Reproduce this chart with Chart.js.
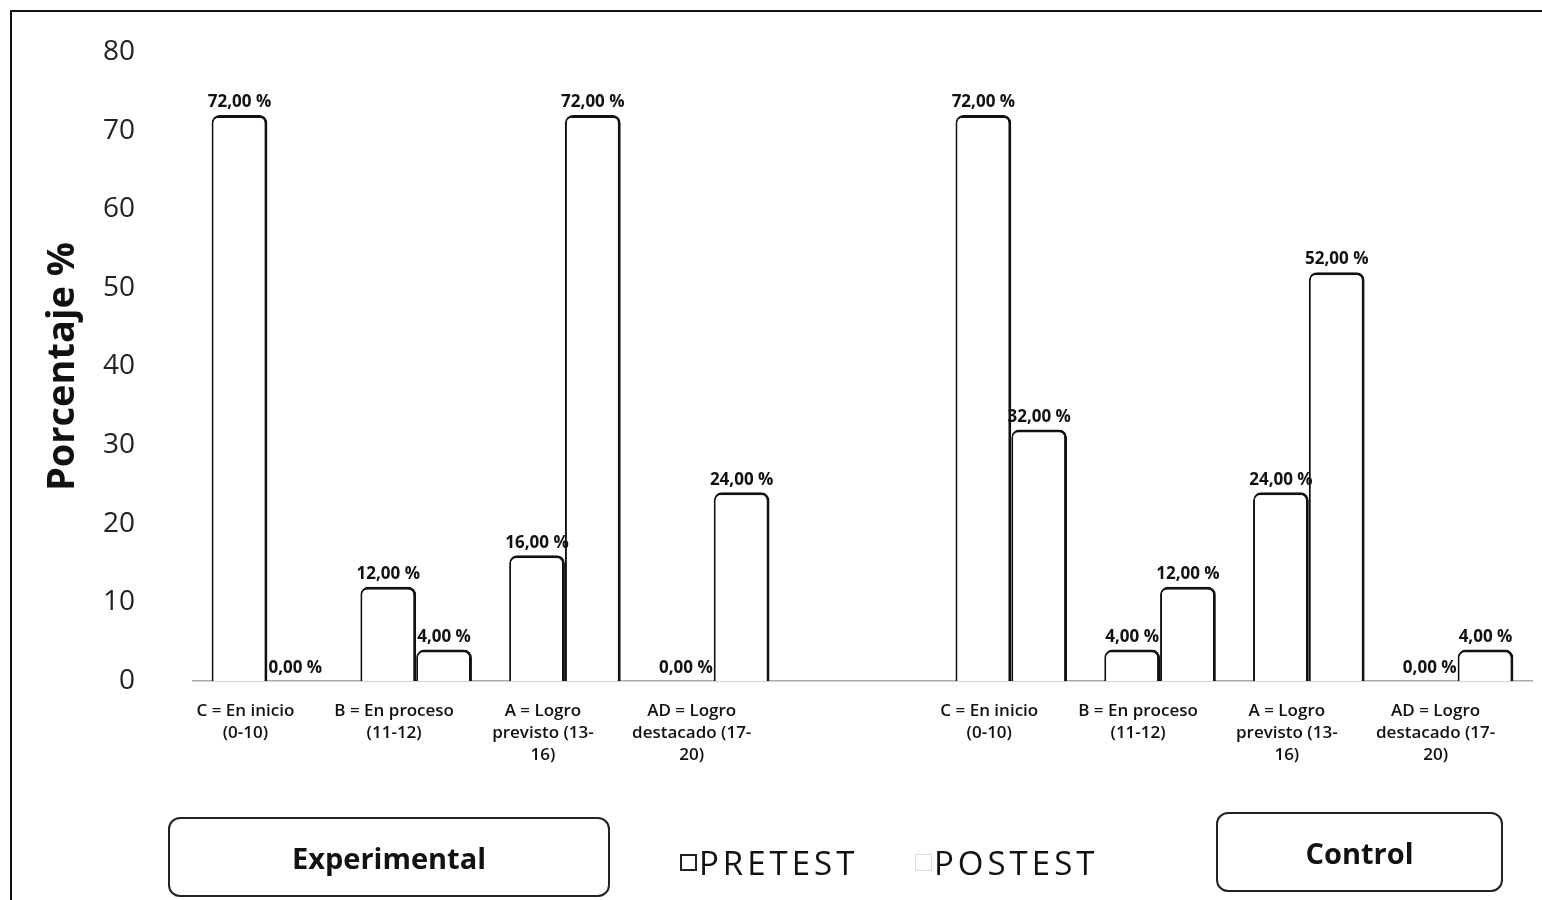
<!DOCTYPE html>
<html>
<head>
<meta charset="utf-8">
<script src="https://cdn.jsdelivr.net/npm/chart.js@4.4.1/dist/chart.umd.min.js"></script>
<style>
  body { margin: 0; background: #fff; width: 1542px; height: 900px; overflow: hidden; position: relative; font-family: 'Open Sans', sans-serif; }
  #marco { position: absolute; left: 10px; top: 10px; width: 1540px; height: 900px; border-left: 2px solid #111; border-top: 2px solid #111; }
  #grafico { position: absolute; left: 0; top: 0; }
  .grupo { position: absolute; box-sizing: border-box; border: 2px solid #222; border-radius: 12px; display: flex; align-items: center; justify-content: center; font-weight: bold; font-size: 29px; color: #111; }
  .leyenda { position: absolute; top: 840px; font-size: 33px; letter-spacing: 4px; color: #111; display: flex; align-items: center; }
  .leyenda span.cuadro { display: inline-block; width: 17px; height: 17px; margin-right: 2px; box-sizing: border-box; }
</style>
</head>
<body>
<div id="marco"></div>
<canvas id="grafico" width="1542" height="900"></canvas>
<div class="grupo" style="left:168px;top:817px;width:442px;height:80px;">Experimental</div>
<div class="grupo" style="left:1216px;top:812px;width:287px;height:80px;">Control</div>
<div id="leyendas"></div>
<script>
// categorías: 4 del grupo experimental, un hueco, 4 del grupo control
const categorias = [
  ['C = En inicio', '(0-10)'],
  ['B = En proceso', '(11-12)'],
  ['A = Logro', 'previsto (13-', '16)'],
  ['AD = Logro', 'destacado (17-', '20)'],
  '',
  ['C = En inicio', '(0-10)'],
  ['B = En proceso', '(11-12)'],
  ['A = Logro', 'previsto (13-', '16)'],
  ['AD = Logro', 'destacado (17-', '20)']
];
const pretest = [72, 12, 16, 0, null, 72, 4, 24, 0];
const postest = [0, 4, 72, 24, null, 32, 12, 52, 4];
const nombresSeries = ['PRETEST', 'POSTEST'];
const ticksY = [0, 10, 20, 30, 40, 50, 60, 70, 80];

// etiquetas de valor encima de cada barra
const etiquetas = {
  id: 'etiquetas',
  afterDatasetsDraw(chart) {
    const ctx = chart.ctx;
    ctx.save();
    ctx.font = 'bold 17px "Open Sans"';
    ctx.fillStyle = '#111';
    ctx.textAlign = 'center';
    ctx.textBaseline = 'bottom';
    chart.data.datasets.forEach((ds, i) => {
      chart.getDatasetMeta(i).data.forEach((bar, j) => {
        const v = ds.data[j];
        if (v === null) return;
        ctx.fillText(v.toFixed(2).replace('.', ',') + ' %', bar.x, bar.y - 4);
      });
    });
    ctx.restore();
  }
};

const estiloBarra = {
  backgroundColor: '#fff',
  borderColor: '#111',
  borderWidth: { left: 2, top: 3, right: 3, bottom: 0 },
  borderSkipped: 'bottom',
  borderRadius: { topLeft: 8, topRight: 8 }
};

new Chart(document.getElementById('grafico'), {
  type: 'bar',
  data: {
    labels: categorias,
    datasets: [
      { label: nombresSeries[0], data: pretest, ...estiloBarra },
      { label: nombresSeries[1], data: postest, ...estiloBarra }
    ]
  },
  options: {
    responsive: false,
    animation: false,
    categoryPercentage: 0.75,
    barPercentage: 1.0,
    layout: { padding: { left: 30, top: 52, right: 10, bottom: 0 } },
    plugins: {
      legend: { display: false },
      tooltip: { enabled: false }
    },
    scales: {
      x: {
        grid: { display: false, drawTicks: false },
        border: { display: true, color: '#aaa', dash: [14, 9], width: 1.5 },
        ticks: {
          color: '#111',
          font: { family: 'Open Sans', size: 17, weight: '600', lineHeight: 1.3 },
          padding: 19,
          labelOffset: -22,
          maxRotation: 0,
          autoSkip: false
        },
        afterFit: s => { s.height = 219; }
      },
      y: {
        min: 0,
        max: 80,
        afterBuildTicks: s => { s.ticks = ticksY.map(v => ({ value: v })); },
        grid: { display: false, drawTicks: false },
        border: { display: false },
        ticks: { color: '#222', font: { family: 'Open Sans', size: 28 }, padding: 58 },
        title: {
          display: true,
          text: 'Porcentaje %',
          color: '#111',
          font: { family: 'Open Sans', size: 38, weight: 'bold' },
          padding: { top: 10, bottom: 0 }
        },
        afterFit: s => {
          s.width = 163;
          // el padding de las marcas no debe empujar el área del gráfico
          s.paddingTop = 17;
          s.paddingBottom = 17;
        }
      }
    }
  },
  plugins: [etiquetas]
});

// leyenda
const leyendas = document.getElementById('leyendas');
const posLeyenda = [680, 915];
const bordes = ['2px solid #222', '1px solid #ddd'];
nombresSeries.forEach((n, i) => {
  const d = document.createElement('div');
  d.className = 'leyenda';
  d.style.left = posLeyenda[i] + 'px';
  d.innerHTML = '<span class="cuadro" style="border:' + bordes[i] + '"></span>' + n;
  leyendas.appendChild(d);
});
</script>
</body>
</html>
